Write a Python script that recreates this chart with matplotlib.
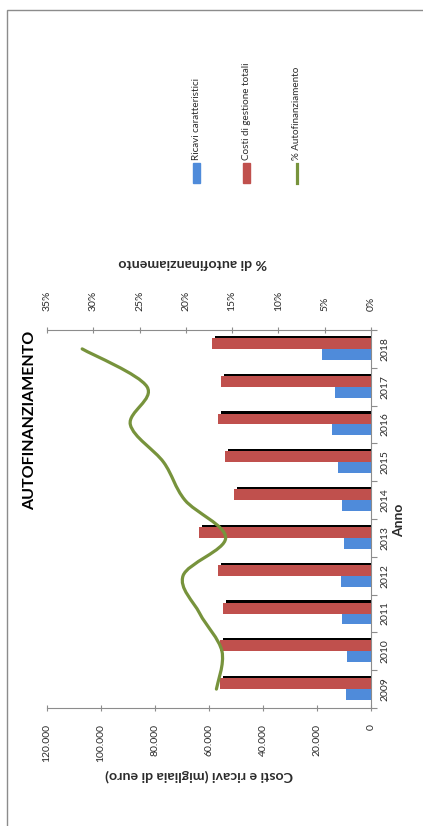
import numpy as np
import matplotlib
matplotlib.use('Agg')
import matplotlib.pyplot as plt
from matplotlib.path import Path
from matplotlib.patches import PathPatch, Rectangle
from matplotlib.lines import Line2D

# ---- data ----
anni = ['2009', '2010', '2011', '2012', '2013', '2014', '2015', '2016', '2017', '2018']
ricavi = [9400, 8800, 10600, 11100, 10000, 10600, 12300, 14400, 13300, 18300]
costi = [55900, 55800, 54900, 56500, 63600, 50700, 54200, 56500, 55400, 58800]
autofin = [16.7, 16.1, 18.5, 20.3, 15.7, 20.1, 22.4, 26.0, 24.2, 31.2]
value_ticks = [0, 20000, 40000, 60000, 80000, 100000, 120000]
value_labels = ['0', '20.000', '40.000', '60.000', '80.000', '100.000', '120.000']
pct_ticks = [0, 5, 10, 15, 20, 25, 30, 35]
pct_labels = ['0%', '5%', '10%', '15%', '20%', '25%', '30%', '35%']
series_names = ['Ricavi caratteristici', 'Costi di gestione totali', '% Autofinanziamento']

BLUE = '#4F8BDA'
RED = '#C0504D'
GREEN = '#77933C'
GRAY = '#8C8C8C'
TXT = '#2B2B2B'
FONT = 'Lato'

plt.rcParams['font.family'] = [FONT, 'DejaVu Sans']

W, H = 423, 826
fig = plt.figure(figsize=(W / 100, H / 100), dpi=100)
fig.patch.set_facecolor('white')

def fx(x):
    return x / W

def fy(y):
    return 1 - y / H

# outer border
fig.add_artist(Rectangle((fx(7), -0.1), 1.2, fy(10) + 0.1, fill=False,
                         edgecolor=GRAY, lw=1.0, transform=fig.transFigure))

ax = fig.add_axes([fx(47), fy(708), (371 - 47) / W, (708 - 330) / H])
ax.set_xlim(120000, 0)
ax.set_ylim(-0.5, 9.5)

idx = np.arange(len(anni))
h = 0.286
# shadow of red bars
ax.barh(idx + h / 2 + 0.06, costi, height=h, left=-1100, color='black', zorder=2)
ax.barh(idx + h / 2, costi, height=h, color=RED, zorder=3)
ax.barh(idx - h / 2, ricavi, height=h, color=BLUE, zorder=3)

# value axis (bottom in picture)
ax.set_xticks(value_ticks)
ax.set_xticklabels(value_labels, rotation=90)
ax.tick_params(axis='x', direction='inout', length=5, width=0.8, color=GRAY,
               pad=9, labelsize=7.5, labelcolor=TXT)

# category axis (right in picture)
ax.yaxis.set_ticks_position('right')
ax.set_yticks(np.arange(-0.5, len(anni), 1))
ax.set_yticklabels([])
ax.set_yticks(idx, minor=True)
ax.set_yticklabels(anni, minor=True, rotation=90, va='center')
ax.tick_params(axis='y', which='major', direction='out', length=4, width=0.8, color=GRAY)
ax.tick_params(axis='y', which='minor', length=0, pad=7, labelsize=7.5, labelcolor=TXT)

for s in ['left', 'top']:
    ax.spines[s].set_visible(False)
for s in ['bottom', 'right']:
    ax.spines[s].set_color(GRAY)
    ax.spines[s].set_linewidth(0.8)

ax.set_xlabel('Costi e ricavi (migliaia di euro)', rotation=180, fontweight='bold',
              fontsize=10.2, color=TXT, ha='center', va='center')
ax.xaxis.set_label_coords((199 - 47) / 324, (708 - 775) / 378)
ax.yaxis.set_label_position('right')
ax.set_ylabel('Anno', rotation=90, fontweight='bold', fontsize=10, color=TXT,
              ha='center', va='center')
ax.yaxis.set_label_coords((399 - 47) / 324, (708 - 520) / 378)

# percent axis (top in picture)
ax2 = ax.twiny()
ax2.set_xlim(35, 0)
ax2.set_xticks(pct_ticks)
ax2.set_xticklabels(pct_labels, rotation=90)
ax2.tick_params(axis='x', direction='inout', length=5, width=0.8, color=GRAY,
                pad=11, labelsize=7.5, labelcolor=TXT)
for s in ['left', 'right', 'bottom']:
    ax2.spines[s].set_visible(False)
ax2.spines['top'].set_color(GRAY)
ax2.spines['top'].set_linewidth(0.8)
ax2.set_xlabel('% di autofinanziamento', rotation=180, fontweight='bold',
               fontsize=10.2, color=TXT, ha='center', va='center')
ax2.xaxis.set_label_coords((193 - 47) / 324, (708 - 263) / 378)

# smoothed line (Bezier through the data points)
pts = np.column_stack([autofin, idx]).astype(float)
n = len(pts)
verts = [pts[0]]
codes = [Path.MOVETO]
for i in range(n - 1):
    p0 = pts[i - 1] if i > 0 else pts[i]
    p1 = pts[i]
    p2 = pts[i + 1]
    p3 = pts[i + 2] if i + 2 < n else pts[i + 1]
    verts += [p1 + (p2 - p0) / 6, p2 - (p3 - p1) / 6, p2]
    codes += [Path.CURVE4] * 3
ax2.add_patch(PathPatch(Path(verts, codes), fill=False, edgecolor=GREEN, lw=2.3,
                        capstyle='round', zorder=5))

# title
fig.text(fx(30), fy(420), 'AUTOFINANZIAMENTO', rotation=90, fontweight='bold',
         fontsize=11.5, color='black', ha='center', va='center')

# legend (manual, rotated)
fig.add_artist(Rectangle((fx(193), fy(183)), 7 / W, 20 / H, color=BLUE,
                         transform=fig.transFigure))
fig.add_artist(Rectangle((fx(243), fy(183)), 7 / W, 20 / H, color=RED,
                         transform=fig.transFigure))
fig.add_artist(Line2D([fx(296.5), fx(296.5)], [fy(164), fy(183)], color=GREEN, lw=2.3,
                      transform=fig.transFigure))
for xc, name in zip([196.5, 246.5, 296.5], series_names):
    fig.text(fx(xc), fy(160), name, rotation=90, fontsize=7.1, color=TXT,
             ha='center', va='bottom')

fig.savefig('out.png', dpi=100)
